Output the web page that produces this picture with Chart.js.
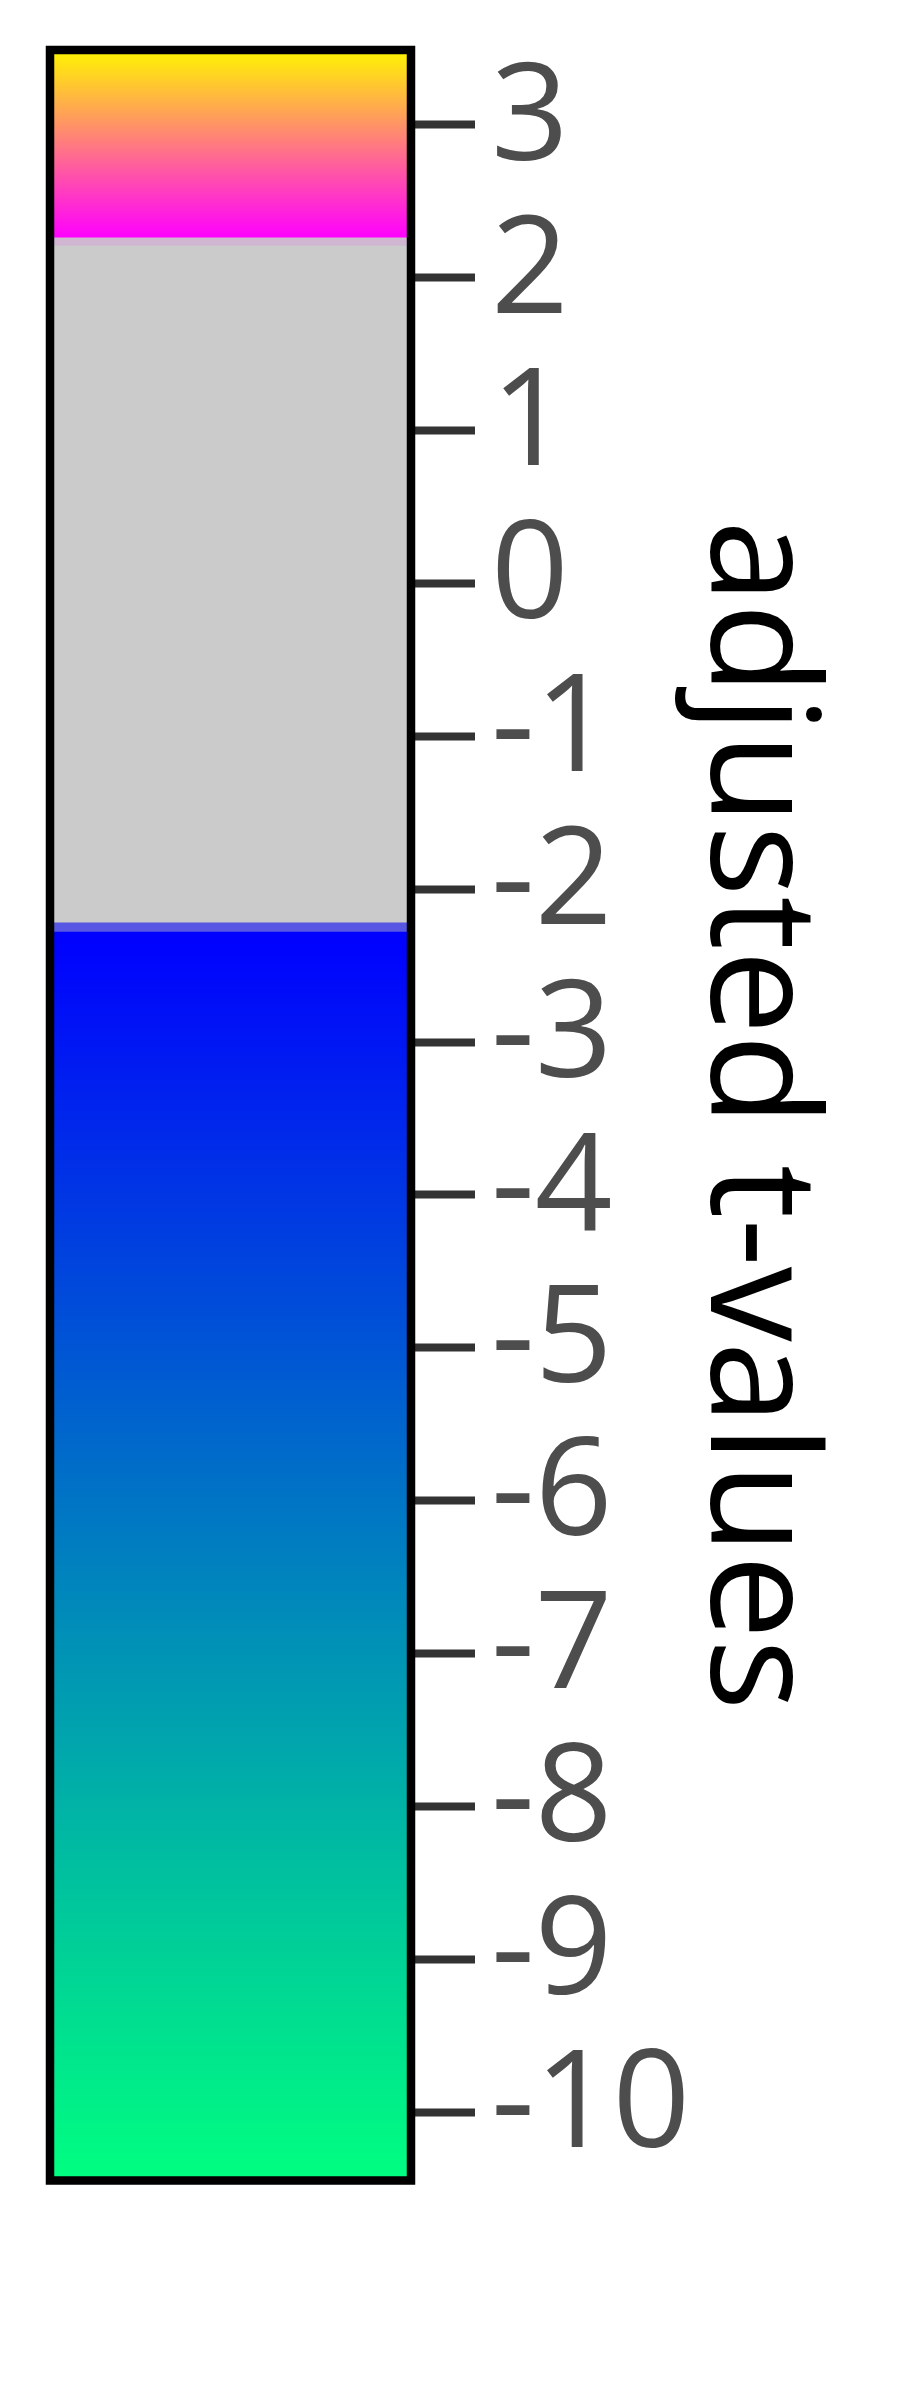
<!DOCTYPE html>
<html>
<head>
<meta charset="utf-8">
<script src="https://cdn.jsdelivr.net/npm/chart.js@4/dist/chart.umd.min.js"></script>
<style>
  html, body { margin: 0; padding: 0; background: #ffffff; }
  #wrap { width: 900px; height: 2400px; }
</style>
</head>
<body>
<div id="wrap"><canvas id="c" width="900" height="2400"></canvas></div>
<script>
// ---- data ----
const tickValues = [3, 2, 1, 0, -1, -2, -3, -4, -5, -6, -7, -8, -9, -10];
const axisMin = -10.448;
const axisMax = 3.49;
const axisTitle = 'adjusted t-values';
// colour segments of the bar (value ranges)
const segmentLow  = [-10.448, -2.28, -2.22, 2.208, 2.261];
const segmentHigh = [-2.28, -2.22, 2.208, 2.261, 3.49];
// colours (bottom / top of each segment)
const segmentColorBottom = ['#00ff80', '#5757e3', '#cbcbcb', '#d0b6d0', '#ff00ff'];
const segmentColorTop    = ['#0000ff', '#5757e3', '#cbcbcb', '#d0b6d0', '#fff500'];

const datasets = segmentLow.map((lo, i) => ({
  label: 'seg' + i,
  data: [[lo, segmentHigh[i]]],
  borderWidth: 0,
  borderSkipped: false,
  barPercentage: 1.0,
  categoryPercentage: 1.0,
  backgroundColor: (ctx) => {
    const chart = ctx.chart;
    const area = chart.chartArea;
    if (!area) return segmentColorTop[i];
    const ys = chart.scales.y;
    const yBottom = ys.getPixelForValue(lo);
    const yTop = ys.getPixelForValue(segmentHigh[i]);
    if (segmentColorBottom[i] === segmentColorTop[i]) return segmentColorTop[i];
    const g = chart.ctx.createLinearGradient(0, yBottom, 0, yTop);
    g.addColorStop(0, segmentColorBottom[i]);
    g.addColorStop(1, segmentColorTop[i]);
    return g;
  }
}));

const outlinePlugin = {
  id: 'outline',
  afterDraw(chart) {
    const a = chart.chartArea;
    const c = chart.ctx;
    c.save();
    c.strokeStyle = '#000000';
    c.lineWidth = 8.5;
    c.strokeRect(a.left, a.top, a.right - a.left, a.bottom - a.top);
    c.restore();
  }
};

new Chart(document.getElementById('c'), {
  type: 'bar',
  data: { labels: [''], datasets },
  options: {
    responsive: false,
    animation: false,
    layout: { padding: { left: 50, top: 50, bottom: 219.5, right: 0 } },
    plugins: { legend: { display: false }, tooltip: { enabled: false } },
    scales: {
      x: { display: false, stacked: true },
      y: {
        position: 'right',
        stacked: false,
        min: axisMin,
        max: axisMax,
        afterBuildTicks: (scale) => { scale.ticks = tickValues.map(v => ({ value: v })); },
        afterFit: (scale) => {
          scale.width = 489;
          scale.paddingTop = 0;
          scale.paddingBottom = 0;
        },
        border: { display: false },
        grid: {
          drawOnChartArea: false,
          drawTicks: true,
          tickLength: 64,
          tickWidth: 8,
          tickColor: '#333333'
        },
        ticks: {
          autoSkip: false,
          padding: 16,
          labelOffset: -4,
          color: '#4d4d4d',
          font: { family: 'Open Sans', size: 136 },
          callback: (v) => String(v)
        },
        title: {
          display: true,
          text: axisTitle,
          color: '#000000',
          font: { family: 'Open Sans', size: 150 },
          padding: { top: 56, bottom: 0 }
        }
      }
    }
  },
  plugins: [outlinePlugin]
});
</script>
</body>
</html>
